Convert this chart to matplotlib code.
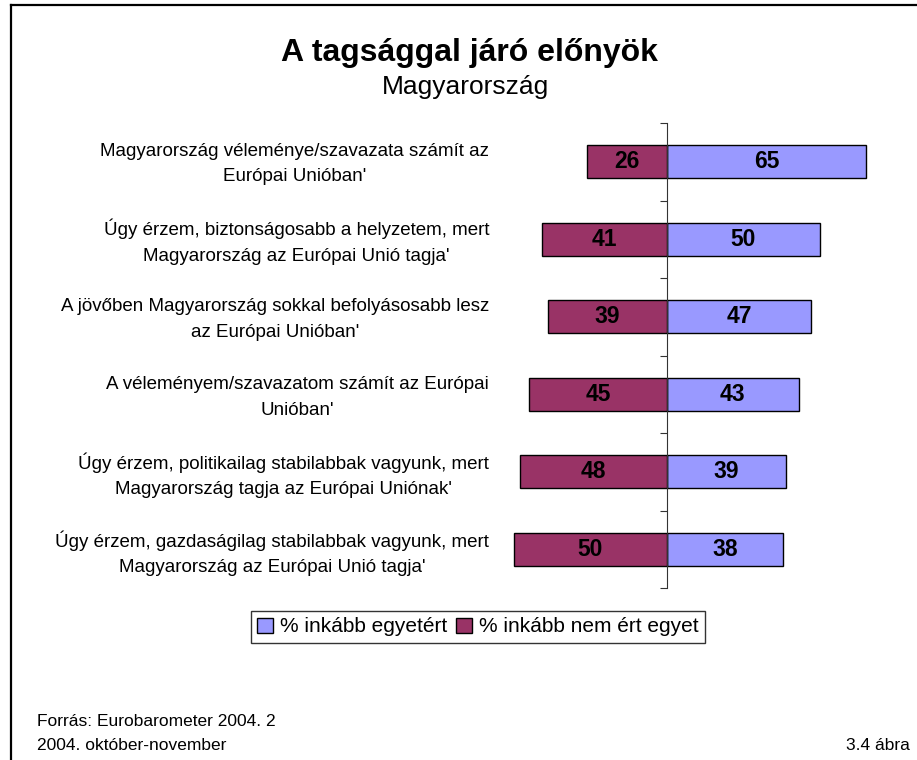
import matplotlib

matplotlib.use("Agg")
import matplotlib.pyplot as plt
from matplotlib.lines import Line2D
from matplotlib.patches import Patch

plt.rcParams["font.family"] = ["Liberation Sans", "DejaVu Sans"]

# data, top to bottom as in the chart
statements = [
    "Magyarország véleménye/szavazata számít az\nEurópai Unióban'",
    "Úgy érzem, biztonságosabb a helyzetem, mert\nMagyarország az Európai Unió tagja'",
    "A jövőben Magyarország sokkal befolyásosabb lesz\naz Európai Unióban'",
    "A véleményem/szavazatom számít az Európai\nUnióban'",
    "Úgy érzem, politikailag stabilabbak vagyunk, mert\nMagyarország tagja az Európai Uniónak'",
    "Úgy érzem, gazdaságilag stabilabbak vagyunk, mert\nMagyarország az Európai Unió tagja'",
]
agree = [65, 50, 47, 43, 39, 38]
disagree = [26, 41, 39, 45, 48, 50]
legend_labels = ["% inkább egyetért", "% inkább nem ért egyet"]

BLUE = "#9999FF"
MAROON = "#993366"

W, H = 917, 760
fig = plt.figure(figsize=(W / 100, H / 100), dpi=100)

# axes placed in pixel terms
ax_left, ax_right, ax_top, ax_bottom = 490, 906, 123, 588
ax = fig.add_axes([ax_left / W, 1 - ax_bottom / H,
                   (ax_right - ax_left) / W, (ax_bottom - ax_top) / H])

scale = 3.06  # px per percent
x0 = 667 - ax_left
ax.set_xlim(-x0 / scale, (ax_right - ax_left - x0) / scale)
ax.set_ylim(len(statements) - 0.5, -0.5)

ypos = list(range(len(statements)))
bar_h = 0.43
ax.barh(ypos, agree, height=bar_h, color=BLUE, edgecolor="black", linewidth=1.0, zorder=2)
ax.barh(ypos, [-v for v in disagree], height=bar_h, color=MAROON, edgecolor="black",
        linewidth=1.0, zorder=2)

for y, a, d in zip(ypos, agree, disagree):
    ax.text(a / 2, y, str(a), ha="center", va="center", fontsize=16.5, fontweight="bold")
    ax.text(-d / 2, y, str(d), ha="center", va="center", fontsize=16.5, fontweight="bold")

for s in ["top", "right", "bottom"]:
    ax.spines[s].set_visible(False)
ax.spines["left"].set_position(("data", 0))
ax.spines["left"].set_color("#333333")
ax.spines["left"].set_zorder(3)
ax.set_xticks([])
ax.set_yticks([y - 0.5 for y in range(len(statements) + 1)])
ax.set_yticklabels([])
ax.tick_params(axis="y", length=5, color="#333333", direction="out")

for y, s in zip(ypos, statements):
    fig.text(489 / W, 1 - (164.0 + 77.8 * y) / H, s, ha="right", va="center",
             multialignment="center", fontsize=13.5, linespacing=1.65)

fig.text(469 / W, 1 - 53 / H, "A tagsággal járó előnyök", ha="center", va="center",
         fontsize=23, fontweight="bold")
fig.text(465 / W, 1 - 87 / H, "Magyarország", ha="center", va="center", fontsize=19)

handles = [Patch(facecolor=BLUE, edgecolor="black", linewidth=1.0),
           Patch(facecolor=MAROON, edgecolor="black", linewidth=1.0)]
leg = fig.legend(handles, legend_labels, loc="center", bbox_to_anchor=(478 / W, 1 - 627 / H),
                 ncol=2, fontsize=15, frameon=True, fancybox=False, handlelength=0.75,
                 handleheight=0.75, handletextpad=0.35, columnspacing=0.45,
                 borderpad=0.3, borderaxespad=0)
leg.get_frame().set_edgecolor("black")
leg.get_frame().set_linewidth(1.0)

foot_font = ["Liberation Sans Narrow", "Liberation Sans", "DejaVu Sans"]
fig.text(37 / W, 1 - 721 / H, "Forrás: Eurobarometer 2004. 2", ha="left", va="center",
         fontsize=12.5, family=foot_font)
fig.text(37 / W, 1 - 745 / H, "2004. október-november", ha="left", va="center",
         fontsize=12.5, family=foot_font)
fig.text(910 / W, 1 - 745 / H, "3.4 ábra", ha="right", va="center",
         fontsize=12.5, family=foot_font)

# outer frame (only top and left edges fall inside the image)
fig.add_artist(Line2D([11 / W, 11 / W], [0, 1 - 5 / H], color="black", linewidth=1.6,
                      transform=fig.transFigure))
fig.add_artist(Line2D([11 / W, 1], [1 - 5 / H, 1 - 5 / H], color="black", linewidth=1.6,
                      transform=fig.transFigure))

fig.savefig("out.png", dpi=100)
